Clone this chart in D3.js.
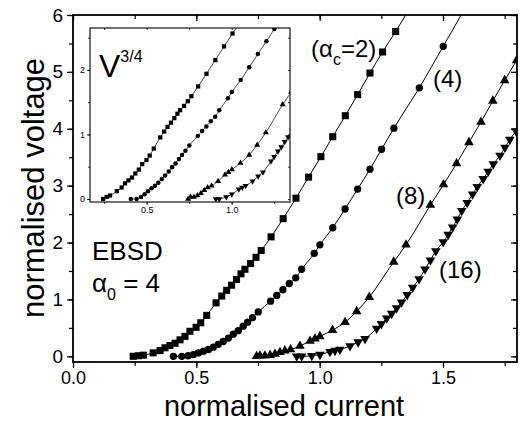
<!DOCTYPE html>
<html><head><meta charset="utf-8">
<script src="https://cdn.jsdelivr.net/npm/d3@7"></script>
<style>
body{margin:0;background:#fff}
text{font-family:"Liberation Sans",Arial,sans-serif;fill:#000}
</style>
</head><body>
<svg id="c" width="521" height="423"></svg>
<script>
// ---- data ----
const sqCurrent = [0.244,0.265,0.285,0.325,0.353,0.373,0.393,0.414,0.434,0.454,0.474,0.499,0.518,0.542,0.580,0.603,0.623,0.643,0.663,0.681,0.697,0.720,0.742,0.763,0.803,0.852,0.904,0.955,1.005,1.053,1.104,1.154,1.204,1.255,1.308,1.36];
const sqVoltage = [0.00,0.01,0.02,0.06,0.10,0.15,0.19,0.23,0.29,0.35,0.44,0.51,0.59,0.72,0.94,1.06,1.16,1.25,1.35,1.45,1.53,1.63,1.74,1.86,2.10,2.42,2.78,3.15,3.51,3.86,4.23,4.60,4.98,5.35,5.71,6.08];

const ciCurrent = [0.407,0.441,0.467,0.488,0.508,0.529,0.549,0.569,0.589,0.609,0.630,0.650,0.670,0.690,0.708,0.728,0.751,0.801,0.826,0.851,0.877,0.903,0.927,0.978,1.001,1.053,1.103,1.154,1.204,1.251,1.301,1.404,1.501,1.60];
const ciVoltage = [0.00,0.00,0.01,0.03,0.06,0.09,0.12,0.16,0.21,0.26,0.32,0.39,0.45,0.53,0.60,0.68,0.78,0.97,1.07,1.17,1.28,1.38,1.53,1.81,1.96,2.26,2.59,2.94,3.29,3.64,4.01,4.72,5.45,6.2];

const upCurrent = [0.744,0.758,0.778,0.799,0.819,0.839,0.859,0.882,0.920,0.961,0.981,1.001,1.052,1.103,1.150,1.201,1.300,1.350,1.449,1.502,1.555,1.605,1.654,1.702,1.750,1.798,1.85];
const upVoltage = [0.00,0.01,0.01,0.02,0.04,0.07,0.10,0.12,0.18,0.27,0.31,0.35,0.46,0.60,0.79,1.04,1.66,1.96,2.66,3.02,3.39,3.76,4.12,4.49,4.85,5.20,5.57];

const dnCurrent = [0.907,0.927,0.968,1.001,1.042,1.062,1.082,1.123,1.156,1.184,1.231,1.250,1.272,1.292,1.312,1.332,1.355,1.377,1.403,1.427,1.449,1.471,1.501,1.521,1.539,1.558,1.576,1.598,1.620,1.639,1.663,1.683,1.704,1.731,1.751,1.771,1.796];
const dnVoltage = [0.00,0.00,0.01,0.03,0.08,0.10,0.12,0.18,0.25,0.31,0.49,0.57,0.67,0.75,0.85,0.95,1.08,1.21,1.36,1.53,1.69,1.85,2.01,2.14,2.27,2.41,2.56,2.70,2.85,2.98,3.12,3.25,3.38,3.53,3.67,3.81,3.96];

const xTickValues = [0, 0.5, 1.0, 1.5];
const xTickLabels = ["0.0", "0.5", "1.0", "1.5"];
const yTickValues = [0, 1, 2, 3, 4, 5, 6];
const yTickLabels = ["0", "1", "2", "3", "4", "5", "6"];
const insetXTickValues = [0.5, 1.0];
const insetXTickLabels = ["0.5", "1.0"];
const insetYTickValues = [0, 1, 2];
const insetYTickLabels = ["0", "1", "2"];

const seriesDefs = [
  {I: sqCurrent, V: sqVoltage, sym: d3.symbolSquare, rot: 0, size: 50, isize: 18},
  {I: ciCurrent, V: ciVoltage, sym: d3.symbolCircle, rot: 0, size: 42, isize: 16},
  {I: upCurrent, V: upVoltage, sym: d3.symbolTriangle, rot: 0, size: 40, isize: 16},
  {I: dnCurrent, V: dnVoltage, sym: d3.symbolTriangle, rot: 180, size: 40, isize: 16}
];

// ---- main plot ----
const svg = d3.select("#c");
const L = 73, R = 517, T = 15, B = 362;
const x = d3.scaleLinear().domain([0, 1.8]).range([L, R]);
const y = d3.scaleLinear().domain([-0.1, 6]).range([B, T]);

svg.append("clipPath").attr("id","mainclip").append("rect")
  .attr("x", L).attr("y", T).attr("width", R-L).attr("height", B-T);

const plot = svg.append("g").attr("clip-path","url(#mainclip)");
const line = d3.line().x(d=>x(d[0])).y(d=>y(d[1])).curve(d3.curveMonotoneX);

seriesDefs.forEach(s => {
  const pts = s.I.map((v,i)=>[v, s.V[i]]);
  plot.append("path").attr("d", line(pts)).attr("fill","none").attr("stroke","#000").attr("stroke-width",1);
  plot.selectAll(null).data(pts).enter().append("path")
    .attr("d", d3.symbol().type(s.sym).size(s.size))
    .attr("transform", d=>`translate(${x(d[0])},${y(d[1])}) rotate(${s.rot})`)
    .attr("fill","#000");
});

function styleAxis(g){
  g.select(".domain").remove();
  g.selectAll("line").attr("stroke","#000").attr("stroke-width",1.2);
}
const xMinor = d3.range(0, 1.81, 0.25);
const yMinor = d3.range(0, 6.01, 0.5);

// bottom
svg.append("g").attr("transform",`translate(0,${B})`)
  .call(d3.axisBottom(x).tickValues(xMinor).tickSize(4).tickFormat("")).call(styleAxis);
svg.append("g").attr("transform",`translate(0,${B})`)
  .call(d3.axisBottom(x).tickValues(xTickValues).tickSize(6).tickPadding(3)
        .tickFormat((d,i)=>xTickLabels[i])).call(styleAxis)
  .selectAll("text").style("font-size","18px").attr("fill","#000");
// top
svg.append("g").attr("transform",`translate(0,${T})`)
  .call(d3.axisTop(x).tickValues(xMinor).tickSize(-4).tickFormat("")).call(styleAxis);
svg.append("g").attr("transform",`translate(0,${T})`)
  .call(d3.axisTop(x).tickValues(xTickValues).tickSize(-6).tickFormat("")).call(styleAxis);
// left
svg.append("g").attr("transform",`translate(${L},0)`)
  .call(d3.axisLeft(y).tickValues(yMinor).tickSize(4).tickFormat("")).call(styleAxis);
svg.append("g").attr("transform",`translate(${L},0)`)
  .call(d3.axisLeft(y).tickValues(yTickValues).tickSize(6).tickPadding(4)
        .tickFormat((d,i)=>yTickLabels[i])).call(styleAxis)
  .selectAll("text").style("font-size","19px").attr("fill","#000");
// right
svg.append("g").attr("transform",`translate(${R},0)`)
  .call(d3.axisRight(y).tickValues(yMinor).tickSize(-4).tickFormat("")).call(styleAxis);
svg.append("g").attr("transform",`translate(${R},0)`)
  .call(d3.axisRight(y).tickValues(yTickValues).tickSize(-6).tickFormat("")).call(styleAxis);

svg.append("rect").attr("x",L).attr("y",T).attr("width",R-L).attr("height",B-T)
  .attr("fill","none").attr("stroke","#000").attr("stroke-width",1.8);

// axis titles
svg.append("text").attr("x", 284).attr("y", 416).attr("text-anchor","middle")
  .style("font-size","29px").text("normalised current");
svg.append("text").attr("transform","translate(44,188) rotate(-90)").attr("text-anchor","middle")
  .style("font-size","31px").text("normalised voltage");

// annotations
const t1 = svg.append("text").attr("x",311).attr("y",57).style("font-size","24px");
t1.append("tspan").text("(α");
t1.append("tspan").attr("dy",8).style("font-size","16px").text("c");
t1.append("tspan").attr("dy",-8).text("=2)");
svg.append("text").attr("x",433).attr("y",87).style("font-size","24px").text("(4)");
svg.append("text").attr("x",396).attr("y",204).style("font-size","24px").text("(8)");
svg.append("text").attr("x",439).attr("y",278).style("font-size","24px").text("(16)");

svg.append("text").attr("x",92).attr("y",260).style("font-size","26px").text("EBSD");
const t2 = svg.append("text").attr("x",92).attr("y",292).style("font-size","26px");
t2.append("tspan").text("α");
t2.append("tspan").attr("dy",8).style("font-size","16px").text("0");
t2.append("tspan").attr("dy",-8).text(" = 4");

// ---- inset ----
const iL = 90, iR = 290, iT = 28, iB = 202;
const ix = d3.scaleLinear().domain([0.167, 1.343]).range([iL, iR]);
const iy = d3.scaleLinear().domain([-0.047, 2.65]).range([iB, iT]);
svg.append("rect").attr("x",iL).attr("y",iT).attr("width",iR-iL).attr("height",iB-iT).attr("fill","#fff");
svg.append("clipPath").attr("id","iclip").append("rect")
  .attr("x", iL).attr("y", iT).attr("width", iR-iL).attr("height", iB-iT);
const ip = svg.append("g").attr("clip-path","url(#iclip)");
const iline = d3.line().x(d=>ix(d[0])).y(d=>iy(d[1])).curve(d3.curveMonotoneX);
seriesDefs.forEach(s => {
  const pts = s.I.map((v,i)=>[v, Math.pow(Math.max(0,s.V[i]), 0.75)]);
  ip.append("path").attr("d", iline(pts)).attr("fill","none").attr("stroke","#000").attr("stroke-width",0.7);
  ip.selectAll(null).data(pts).enter().append("path")
    .attr("d", d3.symbol().type(s.sym).size(s.isize))
    .attr("transform", d=>`translate(${ix(d[0])},${iy(d[1])}) rotate(${s.rot})`)
    .attr("fill","#000");
});
function styleI(g){
  g.select(".domain").remove();
  g.selectAll("line").attr("stroke","#000").attr("stroke-width",0.8);
  g.selectAll("text").style("font-size","9px").attr("fill","#000");
}
const ixMinor = [0.25,0.5,0.75,1.0,1.25];
const iyMinor = [0,0.5,1,1.5,2,2.5];
svg.append("g").attr("transform",`translate(0,${iB})`)
  .call(d3.axisBottom(ix).tickValues(ixMinor).tickSize(2).tickFormat("")).call(styleI);
svg.append("g").attr("transform",`translate(0,${iB})`)
  .call(d3.axisBottom(ix).tickValues(insetXTickValues).tickSize(3).tickPadding(2)
        .tickFormat((d,i)=>insetXTickLabels[i])).call(styleI);
svg.append("g").attr("transform",`translate(0,${iT})`)
  .call(d3.axisTop(ix).tickValues(ixMinor).tickSize(-2).tickFormat("")).call(styleI);
svg.append("g").attr("transform",`translate(${iL},0)`)
  .call(d3.axisLeft(iy).tickValues(iyMinor).tickSize(2).tickFormat("")).call(styleI);
svg.append("g").attr("transform",`translate(${iL},0)`)
  .call(d3.axisLeft(iy).tickValues(insetYTickValues).tickSize(3).tickPadding(2)
        .tickFormat((d,i)=>insetYTickLabels[i])).call(styleI);
svg.append("g").attr("transform",`translate(${iR},0)`)
  .call(d3.axisRight(iy).tickValues(iyMinor).tickSize(-2).tickFormat("")).call(styleI);
svg.append("rect").attr("x",iL).attr("y",iT).attr("width",iR-iL).attr("height",iB-iT)
  .attr("fill","none").attr("stroke","#000").attr("stroke-width",1.1);

const t3 = svg.append("text").attr("x",99).attr("y",77).style("font-size","32px");
t3.append("tspan").text("V");
t3.append("tspan").attr("dy",-15).style("font-size","16px").text("3/4");
</script>
</body></html>
